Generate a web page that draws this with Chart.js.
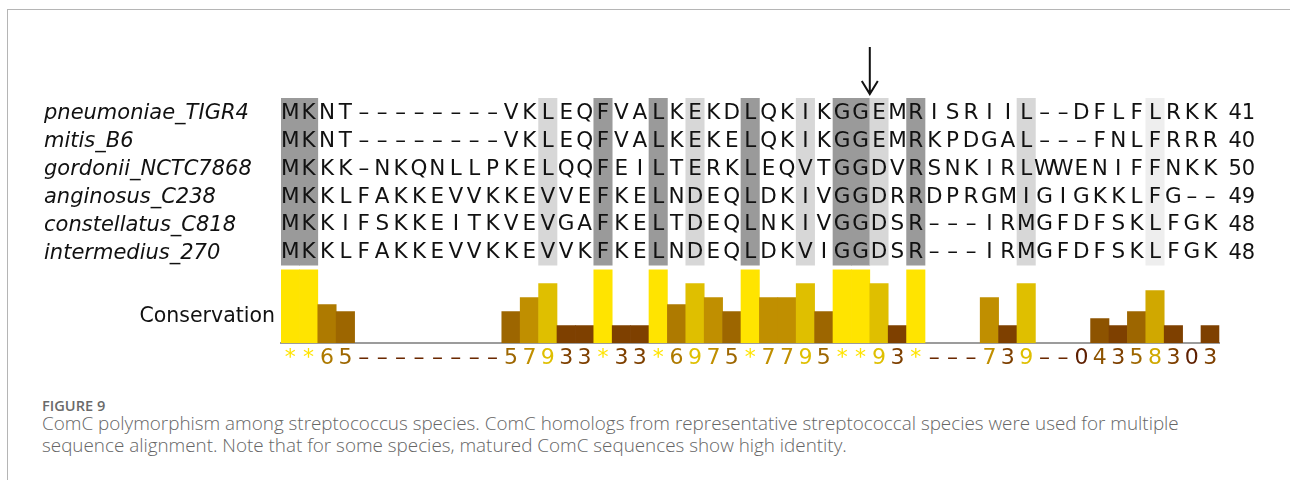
<!DOCTYPE html>
<html>
<head>
<meta charset="utf-8">
<script src="https://cdn.jsdelivr.net/npm/chart.js@4/dist/chart.umd.min.js"></script>
<style>
    body { margin: 0; background: #fff; width: 1290px; height: 480px; overflow: hidden; position: relative; }
    .frame { position: absolute; left: 7px; top: 9px; width: 1300px; height: 480px; border-top: 1px solid #b5b5b5; border-left: 1px solid #b5b5b5; }
    #wrap { position: absolute; left: 0; top: 0; width: 1290px; height: 380px; }
    .fig { position: absolute; left: 42px; top: 395px; font: 600 14.6px "Open Sans", sans-serif; color: #6a6a6a; }
    .caption { position: absolute; left: 42px; top: 412px; width: 1240px; font: 300 18.85px/22px "Open Sans", sans-serif; color: #666; }
</style>
</head>
<body>
<div class="frame"></div>
<div id="wrap"><canvas id="align" width="1290" height="380"></canvas></div>
<div class="fig">FIGURE 9</div>
<div class="caption">ComC polymorphism among streptococcus species. ComC homologs from representative streptococcal species were used for multiple<br>sequence alignment. Note that for some species, matured ComC sequences show high identity.</div>
<script>
// ALIGNMENT DATA
const species = ['pneumoniae_TIGR4', 'mitis_B6', 'gordonii_NCTC7868', 'anginosus_C238', 'constellatus_C818', 'intermedius_270'];
const sequences = [
    'MKNT--------VKLEQFVALKEKDLQKIKGGEMRISRIIL--DFLFLRKK',
    'MKNT--------VKLEQFVALKEKELQKIKGGEMRKPDGAL---FNLFRRR',
    'MKKK-NKQNLLPKELQQFEILTERKLEQVTGGDVRSNKIRLWWENIFFNKK',
    'MKKLFAKKEVVKKEVVEFKELNDEQLDKIVGGDRRDPRGMIGIGKKLFG--',
    'MKKIFSKKEITKVEVGAFKELTDEQLNKIVGGDSR---IRMGFDFSKLFGK',
    'MKKLFAKKEVVKKEVVKFKELNDEQLDKVIGGDSR---IRMGFDFSKLFGK'
];
const seqLengths = [41, 40, 50, 49, 48, 48];

// column identity shading: 3 = high, 2 = medium, 1 = low, 0 = none
const identityLevel = [3, 3, 0, 0, 0, 0, 0, 0, 0, 0, 0, 0, 0, 0, 2, 0, 0, 3, 0, 0,
                       3, 0, 2, 0, 0, 3, 0, 0, 2, 0, 3, 3, 2, 0, 3, 0, 0, 0, 0, 0,
                       2, 0, 0, 0, 0, 0, 0, 1, 0, 0, 0];

// CONSERVATION DATA
const conservationLabels = ['*', '*', '6', '5', '-', '-', '-', '-', '-', '-', '-', '-', '5', '7', '9', '3', '3', '*', '3', '3',
                            '*', '6', '9', '7', '5', '*', '7', '7', '9', '5', '*', '*', '9', '3', '*', '-', '-', '-', '7', '3',
                            '9', '-', '-', '0', '4', '3', '5', '8', '3', '0', '3'];
const conservationScores = [11, 11, 6, 5, null, null, null, null, null, null, null, null, 5, 7, 9, 3, 3, 11, 3, 3,
                            11, 6, 9, 7, 5, 11, 7, 7, 9, 5, 11, 11, 9, 3, 11, null, null, null, 7, 3,
                            9, null, null, 0, 4, 3, 5, 8, 3, 0, 3];

const markedColumn = 31.5;

function init() {
    const shadeColors = { 0: 'rgba(0,0,0,0)', 1: '#eeeeee', 2: '#d7d7d7', 3: '#9a9a9a' };
    const scoreColors = { 0: '#5e1f00', 3: '#7e4000', 4: '#8d5300', 5: '#9d6600', 6: '#ae7a00', 7: '#c08f00', 8: '#d0a800', 9: '#dfbf00', 11: '#ffe400' };
    const seqFont = '21.5px "DejaVu Sans", sans-serif';
    const rowScaleMax = 8.80;

    const scoreColor = i => {
        const s = conservationScores[i];
        return s === null ? '#6a2800' : scoreColors[s];
    };
    const showDash = c => c === '-' ? '\u2013' : c;

    // draws residues, arrow and the row title
    const alignmentPlugin = {
        id: 'alignment',
        afterDatasetsDraw(chart) {
            const ctx = chart.ctx;
            const x = chart.scales.x;
            const rows = chart.scales.rows;
            const area = chart.chartArea;
            ctx.save();
            ctx.font = seqFont;
            ctx.fillStyle = '#111';
            ctx.textAlign = 'center';
            ctx.textBaseline = 'middle';
            sequences.forEach((seq, i) => {
                const yy = rows.getPixelForValue(i + 0.5);
                seq.split('').forEach((c, j) => {
                    ctx.fillText(showDash(c), x.getPixelForValue(j), yy + 1.5);
                });
            });

            // ARROW
            const ax = x.getPixelForValue(markedColumn);
            ctx.strokeStyle = '#111';
            ctx.lineWidth = 2;
            ctx.beginPath();
            ctx.moveTo(ax, area.top - 51);
            ctx.lineTo(ax, area.top - 4);
            ctx.moveTo(ax - 8, area.top - 17);
            ctx.lineTo(ax, area.top - 4);
            ctx.lineTo(ax + 8, area.top - 17);
            ctx.stroke();

            ctx.font = '20.5px "DejaVu Sans", sans-serif';
            ctx.textAlign = 'right';
            ctx.fillText('Conservation', area.left - 6, area.bottom - 26);
            ctx.restore();
        }
    };

    const config = {
        type: 'bar',
        data: {
            labels: conservationLabels,
            datasets: [{
                label: 'identity',
                data: identityLevel.map(l => l ? [0, species.length] : null),
                backgroundColor: identityLevel.map(l => shadeColors[l]),
                yAxisID: 'rows',
                grouped: false,
                barPercentage: 1,
                categoryPercentage: 1,
                clip: 0
            }, {
                label: 'conservation',
                data: conservationScores,
                backgroundColor: conservationScores.map((s, i) => scoreColor(i)),
                yAxisID: 'y',
                grouped: false,
                barPercentage: 1,
                categoryPercentage: 1,
                clip: 0
            }]
        },
        options: {
            responsive: false,
            animation: false,
            devicePixelRatio: 1,
            layout: { padding: { left: 44, top: 98, right: 0, bottom: 7 } },
            plugins: { legend: { display: false }, tooltip: { enabled: false } },
            scales: {
                x: {
                    grid: { display: false, drawTicks: false },
                    border: { display: true, color: '#9c9c9c', width: 2 },
                    ticks: {
                        autoSkip: false,
                        maxRotation: 0,
                        padding: 2,
                        font: { family: '"DejaVu Sans", sans-serif', size: 22 },
                        color: ctx => scoreColor(ctx.index),
                        callback: (v, i) => showDash(conservationLabels[i])
                    },
                    afterFit: axis => { axis.height = 30; }
                },
                y: {
                    display: false,
                    min: 0.5,
                    max: 35.6
                },
                rows: {
                    type: 'linear',
                    position: 'left',
                    reverse: true,
                    min: 0,
                    max: rowScaleMax,
                    grid: { display: false, drawTicks: false },
                    border: { display: false },
                    ticks: {
                        autoSkip: false,
                        crossAlign: 'far',
                        labelOffset: 2,
                        color: '#111',
                        font: { family: '"DejaVu Sans", sans-serif', size: 21, style: 'italic' },
                        callback: (v, i) => species[i]
                    },
                    afterBuildTicks: axis => { axis.ticks = species.map((s, i) => ({ value: i + 0.5 })); },
                    afterFit: axis => { axis.width = 237; }
                },
                lengths: {
                    type: 'linear',
                    position: 'right',
                    reverse: true,
                    min: 0,
                    max: rowScaleMax,
                    grid: { display: false, drawTicks: false },
                    border: { display: false },
                    ticks: {
                        autoSkip: false,
                        padding: 9,
                        labelOffset: 2,
                        color: '#111',
                        font: { family: '"DejaVu Sans", sans-serif', size: 21 },
                        callback: (v, i) => String(seqLengths[i])
                    },
                    afterBuildTicks: axis => { axis.ticks = seqLengths.map((n, i) => ({ value: i + 0.5 })); },
                    afterFit: axis => { axis.width = 70.6; }
                }
            }
        },
        plugins: [alignmentPlugin]
    };

    // RENDER ALIGNMENT
    const alignChart = new Chart(document.getElementById('align'), config);
}

init();
</script>
</body>
</html>
